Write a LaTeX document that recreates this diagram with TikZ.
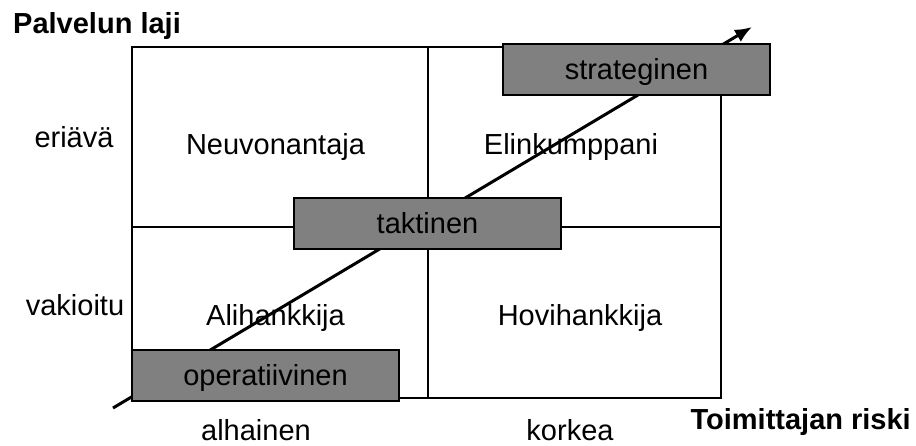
\documentclass[tikz,border=0pt]{standalone}
\usepackage{fontspec}
\setmainfont{Liberation Sans}
\usetikzlibrary{arrows.meta}
\begin{document}
\begin{tikzpicture}[x=1pt,y=-1pt,
  label text/.style={inner sep=0pt, anchor=base, font=\fontsize{29}{34}\selectfont},
  axis title/.style={inner sep=0pt, font=\fontsize{29}{34}\selectfont\bfseries},
  level box/.style={draw=black, line width=2pt, fill=black!50,
    minimum width=267pt, minimum height=51pt, inner sep=0pt,
    text height=20pt, text depth=0pt,
    font=\fontsize{29}{34}\selectfont},
  grid line/.style={line width=1.5pt, draw=black}]
\useasboundingbox (0,0) rectangle (916,445);

% quadrant grid
\draw[grid line] (132,47) rectangle (721,398);
\draw[grid line] (428,47) -- (428,398);
\draw[grid line] (132,227) -- (721,227);

% axis titles and scale labels
\node[axis title, anchor=base west] (ytitle) at (13,33) {Palvelun laji};
\node[axis title, anchor=base east] (xtitle) at (911,429) {Toimittajan riski};
\node[label text] (yhigh) at (74,147) {eriävä};
\node[label text] (ylow) at (75,315) {vakioitu};
\node[label text] (xlow) at (256,440) {alhainen};
\node[label text] (xhigh) at (570,440) {korkea};

% quadrant names
\node[label text] (q1) at (275.5,154) {Neuvonantaja};
\node[label text] (q2) at (571,154) {Elinkumppani};
\node[label text] (q3) at (275.5,325) {Alihankkija};
\node[label text] (q4) at (580,325) {Hovihankkija};

% development arrow
\coordinate (arrstart) at (113,408);
\coordinate (arrend) at (752,27);
\draw[line width=3pt, -{Latex[length=17pt,width=14pt]}] (arrstart) -- (arrend);

% levels on top of the arrow
\node[level box] (strat) at (636.5,69) {strateginen};
\node[level box] (takt) at (427.5,223) {taktinen};
\node[level box] (oper) at (265.5,375) {operatiivinen};
\end{tikzpicture}
\end{document}
